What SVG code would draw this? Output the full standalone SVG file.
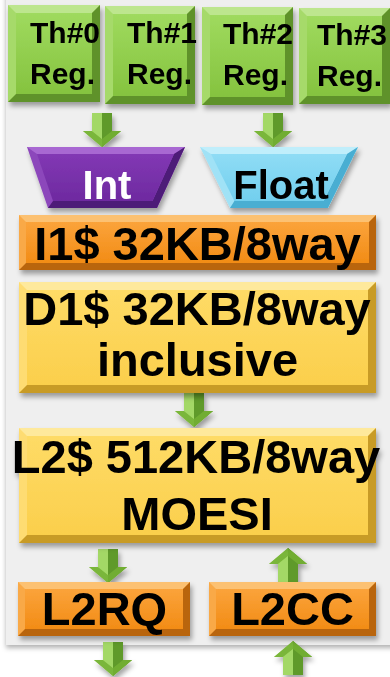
<svg xmlns="http://www.w3.org/2000/svg" width="390" height="677" viewBox="0 0 390 677">
  <defs>
    <style>
      .lbl { font-family: "Liberation Sans", Arial, sans-serif; font-weight: bold; fill: #000; }
      .reg { font-size: 30px; }
      .big { font-size: 47px; text-anchor: middle; }
      .alu { font-size: 40px; text-anchor: middle; }
      .g-top { fill: #bde68e; } .g-side { fill: #a6da6a; } .g-dark { fill: #5f9229; } .g-face { fill: url(#gFace); }
      .o-top { fill: #fcc172; } .o-side { fill: #f9a946; } .o-dark { fill: #b9650f; } .o-face { fill: url(#oFace); }
      .y-top { fill: #fee99c; } .y-side { fill: #fedc72; } .y-dark { fill: #c89b26; } .y-face { fill: url(#yFace); }
      .p-top { fill: #a868d2; } .p-side { fill: #8c46bb; } .p-dark { fill: #4e1a78; } .p-face { fill: url(#pFace); }
      .b-top { fill: #c0eefb; } .b-side { fill: #a0e2f6; } .b-dark { fill: #4aaed2; } .b-face { fill: url(#bFace); }
    </style>
    <linearGradient id="gFace" x1="0" y1="0" x2="0" y2="1">
      <stop offset="0" stop-color="#9fda5e"/>
      <stop offset="1" stop-color="#85c33f"/>
    </linearGradient>
    <linearGradient id="oFace" x1="0" y1="0" x2="0" y2="1">
      <stop offset="0" stop-color="#fba33a"/>
      <stop offset="1" stop-color="#f28c16"/>
    </linearGradient>
    <linearGradient id="yFace" x1="0" y1="0" x2="0" y2="1">
      <stop offset="0" stop-color="#fedb66"/>
      <stop offset="1" stop-color="#fbcf4c"/>
    </linearGradient>
    <linearGradient id="pFace" x1="0" y1="0" x2="0" y2="1">
      <stop offset="0" stop-color="#8238b4"/>
      <stop offset="1" stop-color="#6e2aa0"/>
    </linearGradient>
    <linearGradient id="bFace" x1="0" y1="0" x2="0" y2="1">
      <stop offset="0" stop-color="#8fdcf5"/>
      <stop offset="1" stop-color="#72cfee"/>
    </linearGradient>
    <filter id="shadow" x="-10%" y="-10%" width="130%" height="140%">
      <feDropShadow dx="2" dy="4" stdDeviation="2.5" flood-color="#000" flood-opacity="0.35"/>
    </filter>
    <filter id="panelShadow" x="-5%" y="-5%" width="110%" height="110%">
      <feDropShadow dx="0" dy="3" stdDeviation="2.5" flood-color="#000" flood-opacity="0.3"/>
    </filter>
    <!-- block arrow pointing down, top centre at origin -->
    <g id="arrow">
      <polygon points="-10,0 10,0 10,18 19,18 0,34 -19,18 -10,18" fill="#8dc84a"/>
      <polygon points="0,0 10,0 10,18 19,18 0,34" fill="#5f9a2a"/>
      <polygon points="-19,18 -10,18 0,26 10,18 19,18 0,34" fill="#76b236" opacity="0.8"/>
      <polygon points="-10,0 0,0 0,26 -10,18" fill="#a3d866"/>
    </g>
  </defs>

  <!-- background panel -->
  <rect x="0" y="0" width="390" height="677" fill="#ffffff"/>
  <rect x="6" y="-10" width="400" height="655" fill="#efefef" filter="url(#panelShadow)"/>

  <!-- connectors -->
  <g id="connectors" filter="url(#shadow)">
    <use href="#arrow" transform="translate(102,113)"/>
    <use href="#arrow" transform="translate(273,113)"/>
    <use href="#arrow" transform="translate(194,393)"/>
    <use href="#arrow" transform="translate(108,549)"/>
    <use href="#arrow" transform="translate(288,582) scale(1,-1)"/>
    <use href="#arrow" transform="translate(113,642)"/>
    <use href="#arrow" transform="translate(293,675) scale(1,-1)"/>
  </g>

  <!-- thread register files -->
  <g id="th0" filter="url(#shadow)">
    <rect x="8" y="5" width="92" height="97" class="g-side"/>
    <polygon points="8,5 100,5 92,13 16,13" class="g-top"/>
    <polygon points="100,5 100,102 8,102 16,94 92,94 92,13" class="g-dark"/>
    <rect x="16" y="13" width="76" height="81" class="g-face"/>
  </g>
  <g id="th1" filter="url(#shadow)">
    <rect x="105" y="6" width="90" height="98" class="g-side"/>
    <polygon points="105,6 195,6 187,14 113,14" class="g-top"/>
    <polygon points="195,6 195,104 105,104 113,96 187,96 187,14" class="g-dark"/>
    <rect x="113" y="14" width="74" height="82" class="g-face"/>
  </g>
  <g id="th2" filter="url(#shadow)">
    <rect x="202" y="7" width="91" height="98" class="g-side"/>
    <polygon points="202,7 293,7 285,15 210,15" class="g-top"/>
    <polygon points="293,7 293,105 202,105 210,97 285,97 285,15" class="g-dark"/>
    <rect x="210" y="15" width="75" height="82" class="g-face"/>
  </g>
  <g id="th3" filter="url(#shadow)">
    <rect x="299" y="8" width="91" height="96" class="g-side"/>
    <polygon points="299,8 390,8 382,16 307,16" class="g-top"/>
    <polygon points="390,8 390,104 299,104 307,96 382,96 382,16" class="g-dark"/>
    <rect x="307" y="16" width="75" height="80" class="g-face"/>
  </g>
  <g id="th-labels">
    <text class="lbl reg" x="30" y="43">Th#0</text>
    <text class="lbl reg" x="30" y="84">Reg.</text>
    <text class="lbl reg" x="127" y="43">Th#1</text>
    <text class="lbl reg" x="127" y="84">Reg.</text>
    <text class="lbl reg" x="223" y="44">Th#2</text>
    <text class="lbl reg" x="223" y="85">Reg.</text>
    <text class="lbl reg" x="317" y="45">Th#3</text>
    <text class="lbl reg" x="317" y="86">Reg.</text>
  </g>

  <!-- execution units -->
  <g id="int" filter="url(#shadow)">
    <polygon points="27,147 185,147 157,208 48,208" class="p-side"/>
    <polygon points="27,147 185,147 174,154 37,154" class="p-top"/>
    <polygon points="185,147 157,208 48,208 53,201 152.5,201 174,154" class="p-dark"/>
    <polygon points="37,154 174,154 152.5,201 53,201" class="p-face"/>
    <text class="lbl alu" x="107" y="199" fill="#fff" style="fill:#fff">Int</text>
  </g>
  <g id="float" filter="url(#shadow)">
    <polygon points="200,147 358,147 328,208 230,208" class="b-side"/>
    <polygon points="200,147 358,147 347,154 211,154" class="b-top"/>
    <polygon points="358,147 328,208 230,208 234.4,201 323.6,201 347,154" class="b-dark"/>
    <polygon points="211,154 347,154 323.6,201 234.4,201" class="b-face"/>
    <text class="lbl alu" x="281" y="199">Float</text>
  </g>

  <!-- caches -->
  <g id="i1" filter="url(#shadow)">
    <rect x="19" y="215" width="357" height="55" class="o-side"/>
    <polygon points="19,215 376,215 369,222 26,222" class="o-top"/>
    <polygon points="376,215 376,270 19,270 26,263 369,263 369,222" class="o-dark"/>
    <rect x="26" y="222" width="343" height="41" class="o-face"/>
    <text class="lbl big" x="197.5" y="260">I1$ 32KB/8way</text>
  </g>
  <g id="d1" filter="url(#shadow)">
    <rect x="19" y="282" width="357" height="111" class="y-side"/>
    <polygon points="19,282 376,282 368,290 27,290" class="y-top"/>
    <polygon points="376,282 376,393 19,393 27,385 368,385 368,290" class="y-dark"/>
    <rect x="27" y="290" width="341" height="95" class="y-face"/>
    <text class="lbl big" x="197" y="325">D1$ 32KB/8way</text>
    <text class="lbl big" x="197.5" y="376">inclusive</text>
  </g>
  <g id="l2" filter="url(#shadow)">
    <rect x="19" y="428" width="357" height="115" class="y-side"/>
    <polygon points="19,428 376,428 368,436 27,436" class="y-top"/>
    <polygon points="376,428 376,543 19,543 27,535 368,535 368,436" class="y-dark"/>
    <rect x="27" y="436" width="341" height="99" class="y-face"/>
    <text class="lbl big" x="196" y="473">L2$ 512KB/8way</text>
    <text class="lbl big" x="197" y="530">MOESI</text>
  </g>

  <!-- queues -->
  <g id="l2rq" filter="url(#shadow)">
    <rect x="18" y="582" width="172" height="54" class="o-side"/>
    <polygon points="18,582 190,582 183,589 25,589" class="o-top"/>
    <polygon points="190,582 190,636 18,636 25,629 183,629 183,589" class="o-dark"/>
    <rect x="25" y="589" width="158" height="40" class="o-face"/>
    <text class="lbl big" x="104.5" y="625">L2RQ</text>
  </g>
  <g id="l2cc" filter="url(#shadow)">
    <rect x="209" y="582" width="167" height="54" class="o-side"/>
    <polygon points="209,582 376,582 369,589 216,589" class="o-top"/>
    <polygon points="376,582 376,636 209,636 216,629 369,629 369,589" class="o-dark"/>
    <rect x="216" y="589" width="153" height="40" class="o-face"/>
    <text class="lbl big" x="292.5" y="625">L2CC</text>
  </g>
</svg>
